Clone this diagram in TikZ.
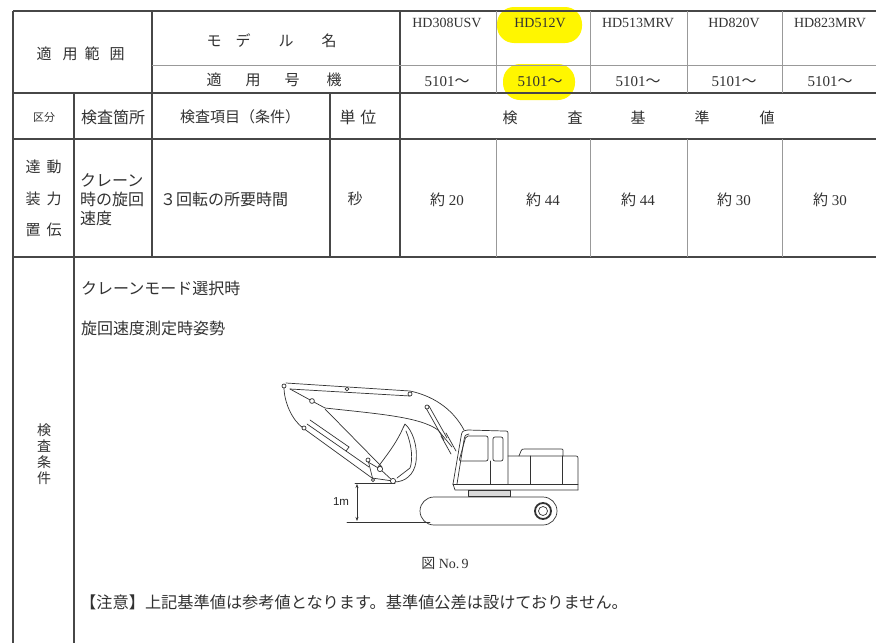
\documentclass[tikz,border=0pt]{standalone}
\usepackage{fontspec}
\setmainfont{Liberation Serif}
\newfontfamily\jp{Noto Sans CJK JP}
\newfontfamily\lsans{Liberation Sans}
\usetikzlibrary{arrows.meta}
\definecolor{hl}{RGB}{255,246,0}
\definecolor{ink}{RGB}{50,50,50}
\begin{document}
\begin{tikzpicture}[x=1pt,y=-1pt,
  frame/.style={draw=ink!90, line width=1.2pt},
  thin/.style={draw=black!40, line width=0.8pt},
  jt/.style={font=\jp\fontsize{15}{15}\selectfont, text=ink, inner sep=0pt},
  jl/.style={jt, anchor=west},
  lt/.style={font=\fontsize{14}{14}\selectfont, text=ink, inner sep=0pt},
  num/.style={font=\fontsize{15}{15}\selectfont, text=ink, inner sep=0pt},
  ex/.style={draw=black!80, line width=0.7pt, line join=round, line cap=round},
  pin/.style={draw=black!80, line width=0.7pt, fill=white},
  hlbox/.style={fill=hl, rounded corners=17pt}
]
\useasboundingbox (0,0) rectangle (876,643);
\fill[white] (0,0) rectangle (876,643);

% highlights
\fill[hlbox] (497,7) rectangle (582,43);
\fill[hlbox] (503,64) rectangle (575,100);

% table lines
\draw[frame] (13,11) -- (876,11);
\draw[frame] (13,11) -- (13,643);
\draw[frame] (13,93) -- (876,93);
\draw[frame] (13,139) -- (876,139);
\draw[frame] (13,257) -- (876,257);
\draw[frame] (152,11) -- (152,257);
\draw[frame] (74,93) -- (74,643);
\draw[frame] (330,93) -- (330,257);
\draw[frame] (400,11) -- (400,257);
\draw[thin] (152,65) -- (876,65);
\foreach \x in {496,590,687,782} {
  \draw[thin] (\x,11) -- (\x,93);
  \draw[thin] (\x,139) -- (\x,257);
}

% header texts
\node[jt] (h1) at (44,54) {適};
\node[jt] (h2) at (70,54) {用};
\node[jt] (h3) at (92,54) {範};
\node[jt] (h4) at (117,54) {囲};
\node[jt] (m1) at (214,41) {モ};
\node[jt] (m2) at (243,41) {デ};
\node[jt] (m3) at (286,41) {ル};
\node[jt] (m4) at (329,41) {名};
\node[jt] (g1) at (214,80) {適};
\node[jt] (g2) at (253,80) {用};
\node[jt] (g3) at (292,80) {号};
\node[jt] (g4) at (334,80) {機};

\node[lt] (md1) at (447,23) {HD308USV};
\node[lt] (md2) at (540,23) {HD512V};
\node[lt] (md3) at (638,23) {HD513MRV};
\node[lt] (md4) at (734,23) {HD820V};
\node[lt] (md5) at (830,23) {HD823MRV};
\node[num] (s1) at (447,82) {5101\jp～};
\node[num] (s2) at (540,82) {5101\jp～};
\node[num] (s3) at (638,82) {5101\jp～};
\node[num] (s4) at (734,82) {5101\jp～};
\node[num] (s5) at (830,82) {5101\jp～};

% second row
\node[jt, font=\jp\fontsize{11}{11}\selectfont] (k1) at (44,117) {区分};
\node[jt, font=\jp\fontsize{16}{16}\selectfont] (k2) at (113,117) {検査箇所};
\node[jt] (k3) at (240,117) {検査項目（条件）};
\node[jt, font=\jp\fontsize{16}{16}\selectfont] (k4) at (358,117) {単\hspace{5pt}位};
\node[jt] (b1) at (510,118) {検};
\node[jt] (b2) at (575,118) {査};
\node[jt] (b3) at (638,118) {基};
\node[jt] (b4) at (702,118) {準};
\node[jt] (b5) at (767,118) {値};

% data row
\node[jt] (d1) at (33,167) {達};
\node[jt] (d2) at (54,167) {動};
\node[jt] (d3) at (33,199) {装};
\node[jt] (d4) at (54,199) {力};
\node[jt] (d5) at (33,230) {置};
\node[jt] (d6) at (54,230) {伝};
\node[jl, font=\jp\fontsize{16}{16}\selectfont] (c1) at (80,180) {クレーン};
\node[jl, font=\jp\fontsize{16}{16}\selectfont] (c2) at (80,199) {時の旋回};
\node[jl, font=\jp\fontsize{16}{16}\selectfont] (c3) at (80,218) {速度};
\node[jl, font=\jp\fontsize{16}{16}\selectfont] (c4) at (160,199) {３回転の所要時間};
\node[jt] (c5) at (355,199) {秒};
\node[num] (v1) at (447,200) {\jp 約\rm\ 20};
\node[num] (v2) at (543,200) {\jp 約\rm\ 44};
\node[num] (v3) at (638,200) {\jp 約\rm\ 44};
\node[num] (v4) at (734,200) {\jp 約\rm\ 30};
\node[num] (v5) at (830,200) {\jp 約\rm\ 30};

% lower area
\node[jt, align=center, font=\jp\fontsize{14}{16}\selectfont] (cond) at (44,454) {検\\査\\条\\件};
\node[jl, font=\jp\fontsize{16}{16}\selectfont] (t1) at (81,288) {クレーンモード選択時};
\node[jl, font=\jp\fontsize{16}{16}\selectfont] (t2) at (81,328) {旋回速度測定時姿勢};
\node[num, font=\fontsize{14}{14}\selectfont] (fig) at (445,563) {\jp 図\rm\ No.\,9};
\node[jl, font=\jp\fontsize{16.2}{16}\selectfont] (note) at (80,602) {【注意】上記基準値は参考値となります。基準値公差は設けておりません。};

% ---------- excavator ----------
% ground and dimension
\draw[ex] (347,522) -- (430,522);
\draw[ex] (355,483) -- (395,483);
\draw[ex, {Stealth[length=4pt,width=3pt]}-{Stealth[length=4pt,width=3pt]}] (357,484) -- (357,521);
\node[font=\lsans\fontsize{11.5}{11.5}\selectfont, text=black!85, inner sep=0pt] (onem) at (341,502) {1m};

% track
\draw[ex, rounded corners=14pt] (420,497) rectangle (557,525);
\draw[ex, line width=1.8pt] (543,511) circle (8);
\draw[ex] (543,511) circle (4.5);

% swing bearing and deck
\draw[ex, fill=black!15] (468,490) rectangle (510,496);
\draw[ex] (453,484) -- (578,484);
\draw[ex] (453,484) -- (455,490) -- (578,490);
% cab
\draw[ex] (453,484) -- (461,437) .. controls (462,431) .. (468,430) -- (504,431) .. controls (508,431) .. (508,435) -- (508,484);
\draw[ex] (457,484) -- (464,440) .. controls (465,435) .. (469,434);
\draw[ex, rounded corners=2pt] (466,436) -- (488,436) -- (488,461) -- (459,461) -- cycle;
\draw[ex, rounded corners=2pt] (493,437) rectangle (503,461);
\draw[ex] (490,461) -- (490,484);
% engine housing
\draw[ex] (508,456) -- (574,456) .. controls (578,456) .. (578,460) -- (578,490);
\draw[ex] (519,456) -- (521,451) .. controls (522,449) .. (525,449) -- (561,449) .. controls (563,449) .. (563,451) -- (563,456);
\draw[ex] (530,456) -- (530,484);
\draw[ex] (562,456) -- (562,484);

% boom
\draw[ex] (286,383) -- (410,391) .. controls (438,397) and (455,413) .. (464,430);
\draw[ex] (290,389) -- (410,396);
\draw[ex] (290,389) -- (312,401) -- (325,408) .. controls (380,414) and (420,417) .. (438,430) -- (452,447);
% boom cylinder
\draw[ex] (426,408) -- (444,440);
\draw[ex] (429,406) -- (447,438);
\draw[ex] (441,436) -- (451,454);
\draw[ex] (446,433) -- (456,451);

% arm
\draw[ex] (284,387) .. controls (284,402) and (292,420) .. (303,428) -- (372,478);
\draw[ex] (325,409) -- (382,467);
\draw[ex] (372,478) -- (393,481);
% bucket cylinder
\draw[ex] (307,424) -- (346,451) -- (369,467);
\draw[ex] (310,420) -- (349,447);
\draw[ex] (346,451) -- (349,447);
% bucket link
\draw[ex] (368,460) -- (373,480);
\draw[ex] (368,462) -- (380,469);
% bucket
\draw[ex] (378,467) .. controls (386,456) and (396,444) .. (403,428) -- (405,424) .. controls (412,430) and (418,445) .. (416,462) .. controls (414,475) and (405,482) .. (394,482);
\draw[ex] (406,431) .. controls (412,445) and (413,460) .. (410,468) -- (397,478);
\draw[ex] (380,469) -- (393,481);

% pins
\foreach \p/\r in {{(284,386)}/2, {(347,389)}/1.8, {(410,394)}/2, {(312,401)}/2.4, {(427,407)}/2, {(304,428)}/2, {(368,460)}/2, {(380,469)}/2.6, {(393,481)}/2.6, {(373,480)}/1.6} {
  \draw[pin] \p circle (\r);
}
\end{tikzpicture}
\end{document}
